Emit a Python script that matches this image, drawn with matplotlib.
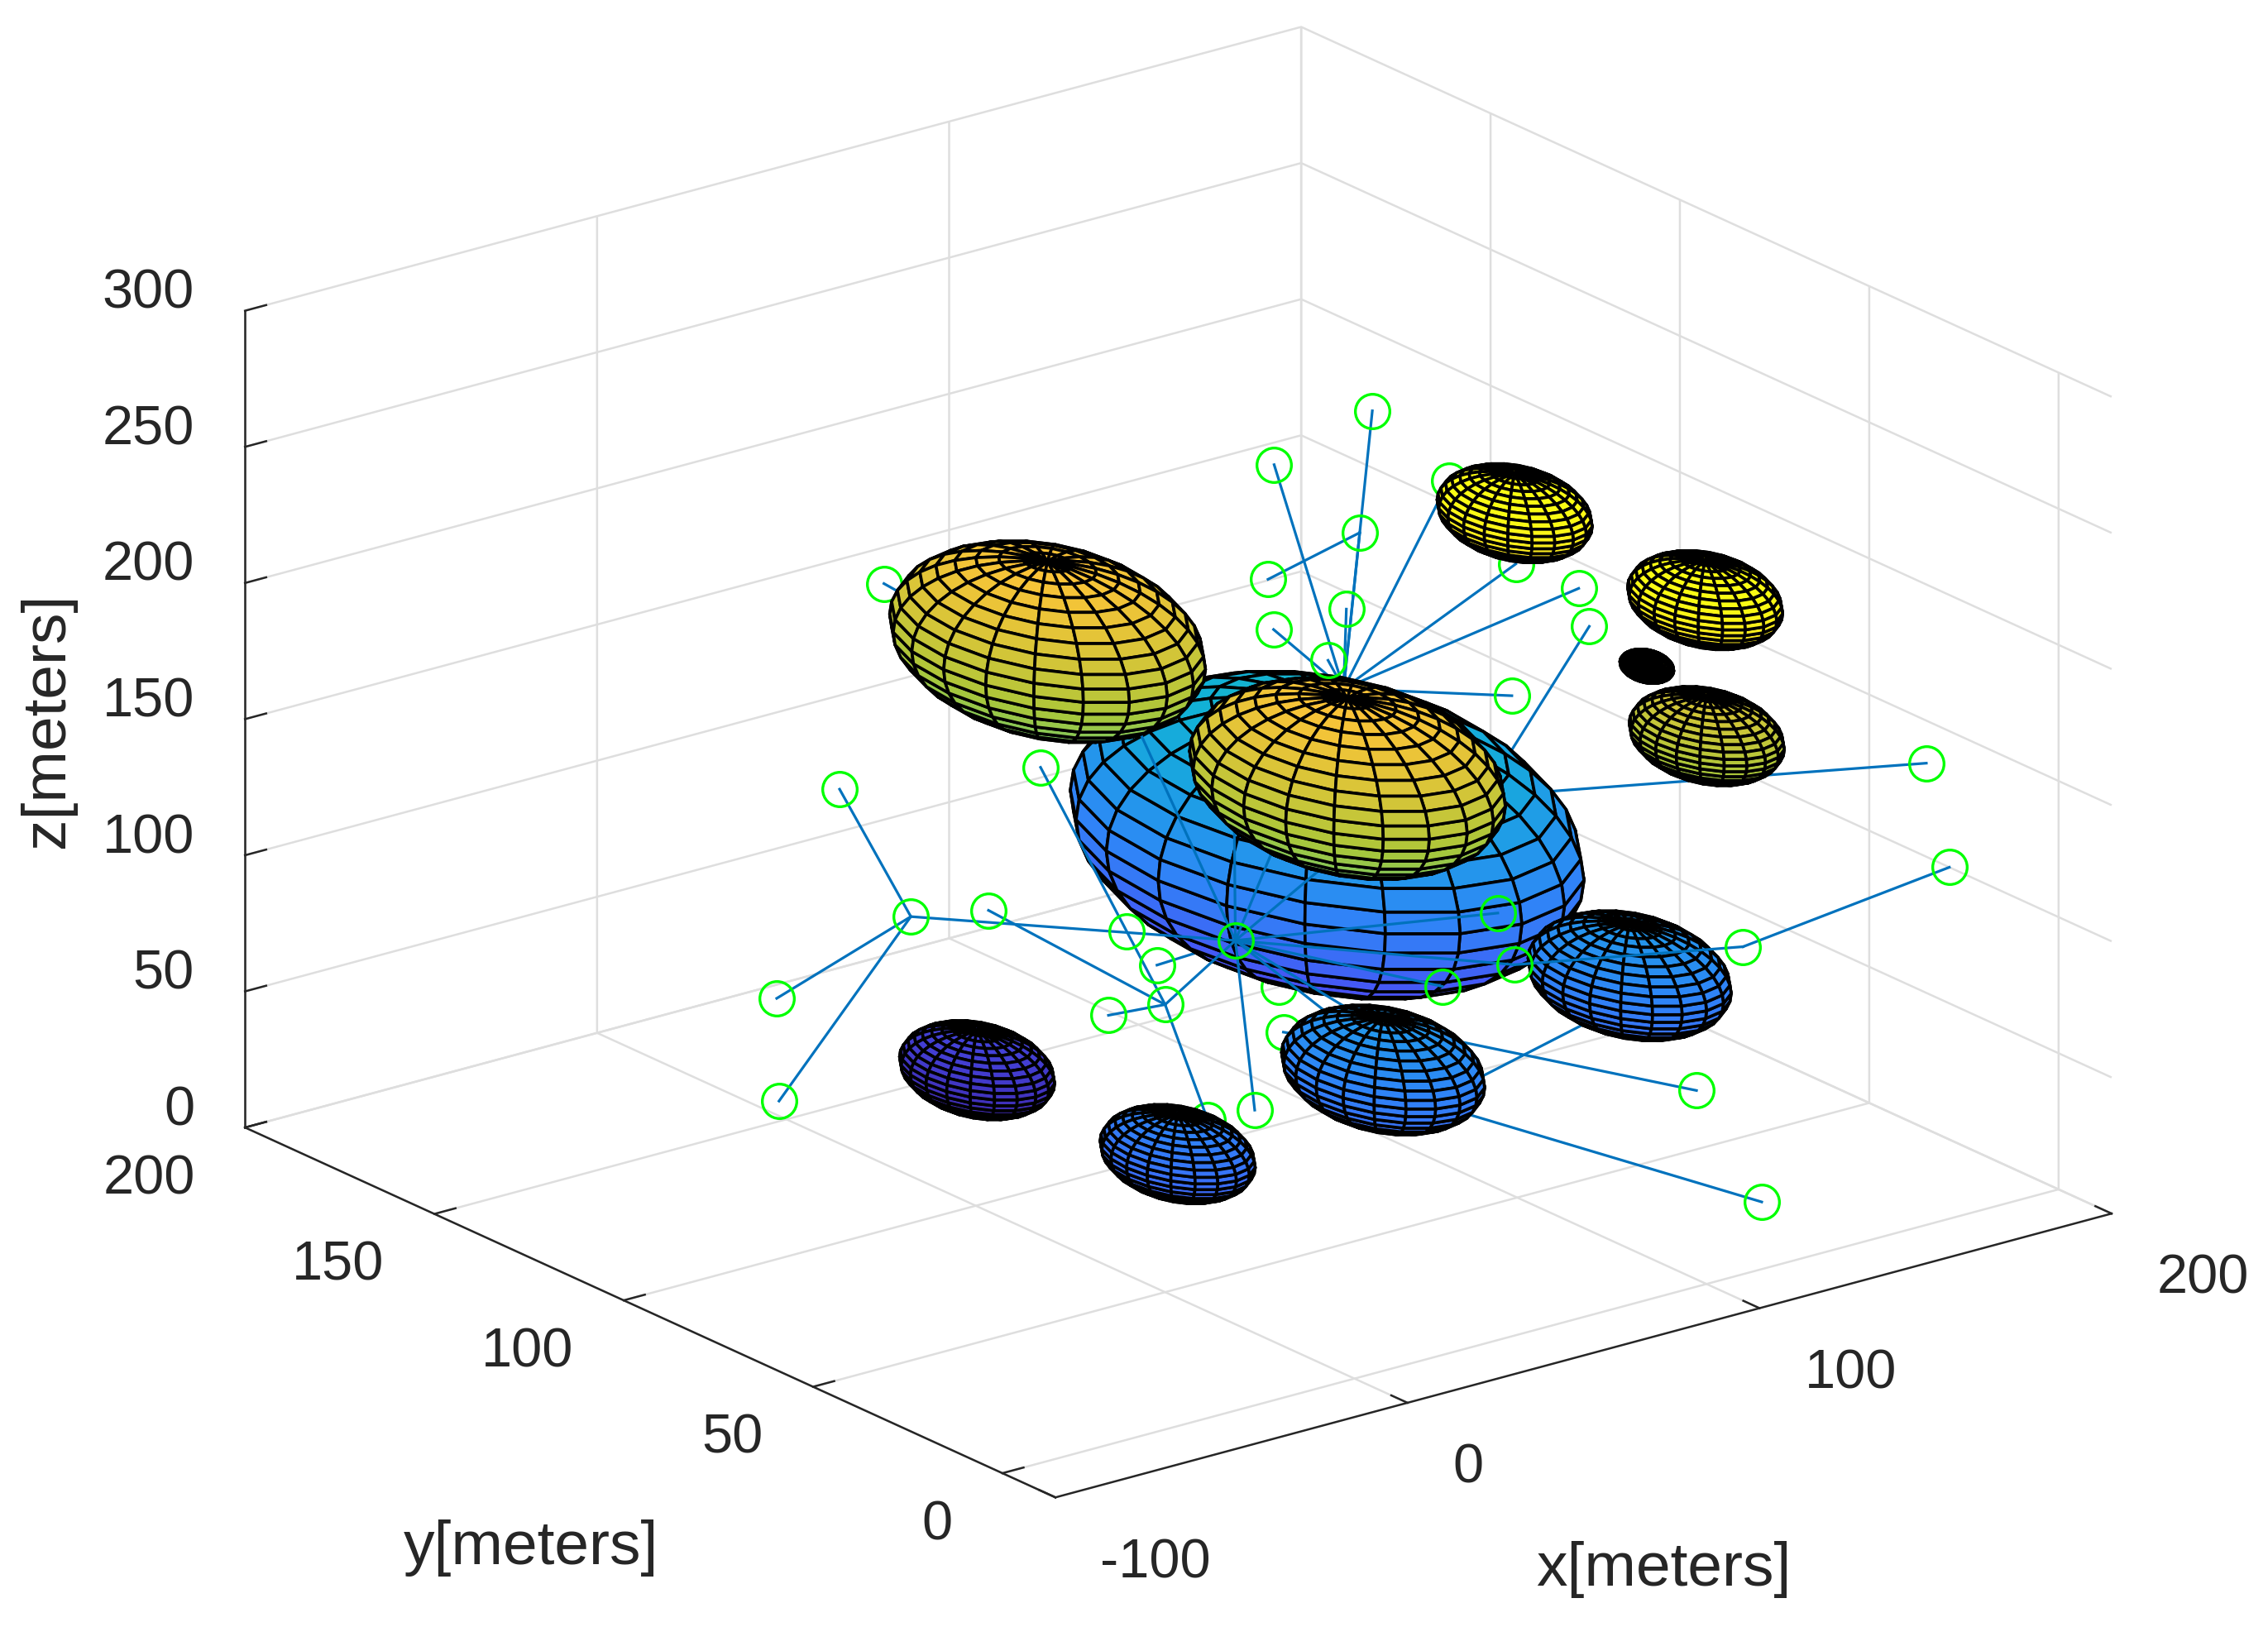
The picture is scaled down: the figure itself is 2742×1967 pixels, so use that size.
import matplotlib
matplotlib.use('Agg')
import matplotlib.pyplot as plt
import numpy as np
from matplotlib.colors import LinearSegmentedColormap

plt.rcParams['font.family'] = ['Liberation Sans', 'DejaVu Sans']

# ellipsoids
sphere_x = [128, 29, 29, 127, 46, -13, 32, 101, 101, 112, 118]
sphere_y = [126.2, 108, 28.8, 45.4, 35.2, 34.6, 129.4, 51.6, 1.3, 11.1, 32.5]
sphere_z = [75, 192, 192, 75, 75, 65, 20, 250, 250, 190, 200]
sphere_rx = [48, 29.5, 29.5, 19, 19, 14.5, 14.5, 14.5, 14.5, 14.5, 5]
sphere_ry = [51.4, 31.6, 31.6, 20.3, 20.3, 15.5, 15.5, 15.5, 15.5, 15.5, 5.4]
sphere_rz = [48, 29.5, 29.5, 19, 19, 14.5, 14.5, 14.5, 14.5, 14.5, 5]
sphere_layer = [3, 6, 7, 7, 7, 7, 7, 6, 6, 6, 6]

# nodes of the blue links
node_ids = ['P1', 'P2', 'P3', 'P4', 'P5', 'P6', 'P7', 'P8', 'P9', 'P10', 'P11', 'P12', 'P13', 'A',
            'E11', 'E13', 'Q1', 'Q1e', 'Q2', 'Q3', 'Q4', 'Q4e', 'Q5', 'Q5e', 'L1', 'L2',
            'B', 'B1', 'B2', 'B3', 'B4', 'B5', 'B6', 'B6e', 'B7', 'B8',
            'C', 'C1', 'C2', 'C3', 'D', 'D1', 'D2', 'E', 'F',
            'G1', 'G2', 'G3', 'G4', 'H1', 'H2']
node_x = [77, 105, 87, 63, 76, 55, 58, 102, 108, 115, 118, 93, -2, 55,
          114, 10, 162, 117, 168, 132, 142, 104, 126, 87, 95, 134,
          49, 96, 100, 84, 66, 76, 75, 82, 52, 44,
          -5, -10.5, -29, -47.5, 54, 22, 45, 34, 43,
          41.5, 42, 68, 23, 89, 87]
node_y = [92.8, 92.9, 79.5, 81.4, 72.8, 72.5, 60.9, 69.9, 57.8, 47.7, 47.7, 44.9, 122.4, 54,
          82.1, 107.3, -0.4, 69, -0.9, 20.1, 41.7, 80.1, 9.6, 71.6, 64.5, 58.8,
          77, 51.4, 50.8, 54.9, 87.7, 90.6, 88.5, 79, 100.5, 101,
          112.5, 126.2, 125.6, 107.8, 100.2, 117.1, 106.8, 114.5, 78.7,
          70.5, 53.4, 54.2, 82.3, 78, 81.2]
node_z = [250, 260, 230, 220, 210, 210, 205, 250, 225, 220, 205, 190, 215, 200,
          100, 200, 170, 130, 130, 100, 30, 40, 15, 30, 30, 50,
          95, 105, 85, 80, 20, 60, 45, 45, 70, 85,
          100, 140, 70, 50, 55, 90, 50, 140, 30,
          170, 170, 150, 190, 50, 45]

back_links = [('A', 'P1'), ('A', 'P2'), ('A', 'P3'), ('P3', 'P4'), ('A', 'P5'), ('A', 'P6'), ('A', 'P7'),
              ('A', 'P8'), ('A', 'P9'), ('A', 'P10'), ('A', 'P12'), ('P11', 'E11'), ('P13', 'E13'),
              ('Q1', 'Q1e'), ('Q4', 'Q4e'), ('Q5', 'Q5e'), ('L1', 'L2'), ('B6', 'B6e'), ('B7', 'B')]
front_links = [('B', 'C'), ('C', 'C1'), ('C', 'C2'), ('C', 'C3'), ('B', 'D'), ('D', 'D1'), ('D', 'D2'),
               ('D', 'E'), ('D', 'F'), ('B', 'B1'), ('B', 'B2'), ('B', 'B3'), ('B', 'B4'),
               ('B', 'G1'), ('B', 'G2'), ('B', 'G3'), ('B', 'G4'), ('B', 'H1'), ('B', 'H2')]
top_links = [('Q2', 'Q3'), ('Q3', 'B2')]

back_markers = ['P8', 'P9', 'P13', 'B5', 'B6', 'F']
front_markers = ['P1', 'P2', 'P3', 'P4', 'P5', 'P6', 'P7', 'P10', 'P11', 'P12', 'Q1', 'Q2', 'Q3', 'Q4', 'Q5',
                 'B', 'B1', 'B2', 'B3', 'B4', 'B7', 'B8', 'C', 'C1', 'C2', 'C3', 'D', 'D1', 'D2', 'E']

x_ticks = [-100, 0, 100, 200]
x_labels = ['-100', '0', '100', '200']
y_ticks = [0, 50, 100, 150, 200]
z_ticks = [0, 50, 100, 150, 200, 250, 300]

parula = LinearSegmentedColormap.from_list('parula', [
    (0.2422, 0.1504, 0.6603), (0.2810, 0.3228, 0.9579), (0.1786, 0.5289, 0.9682), (0.0689, 0.6948, 0.8394),
    (0.2161, 0.7843, 0.5923), (0.6720, 0.7793, 0.2227), (0.9970, 0.7659, 0.2199), (0.9769, 0.9839, 0.0805)])

ink = (0.15, 0.15, 0.15)
grid_c = (0.87, 0.87, 0.87)
link_c = (0, 0.447, 0.741)

fig = plt.figure(figsize=(27.42, 19.67), dpi=100)
ax = fig.add_axes([(1398 - 983.5) / 2742, (1019 - 983.5) / 1967, 1967 / 2742, 1.0], projection='3d', proj_type='ortho')
ax.computed_zorder = False
ax.view_init(elev=20.5, azim=-127.5)
ax.set_box_aspect((1, 1, 0.655), zoom=1.238)
ax.set_xlim(-100, 200, view_margin=0)
ax.set_ylim(-14, 200, view_margin=0)
ax.set_zlim(0, 300, view_margin=0)
ax.set_xticks(x_ticks, x_labels)
ax.set_yticks(y_ticks)
ax.set_zticks(z_ticks)

for axis in (ax.xaxis, ax.yaxis, ax.zaxis):
    axis.set_pane_color((1, 1, 1, 0))
    axis.pane.set_edgecolor(grid_c)
    axis.line.set_color(ink)
    axis.line.set_linewidth(1.8)
    axis._axinfo['grid'].update(color=grid_c, linewidth=1.8)
    axis._axinfo['tick'].update(inward_factor=0, outward_factor=0.25, linewidth={True: 1.8, False: 1.8}, color=ink)
ax.tick_params(axis='x', labelsize=48, colors=ink, pad=33)
ax.tick_params(axis='y', labelsize=48, colors=ink, pad=27)
ax.tick_params(axis='z', labelsize=48, colors=ink, pad=12)
for t in ax.xaxis.get_major_ticks():
    t.label1.set_ha('left')
    t.label1.set_va('center')
for t in ax.yaxis.get_major_ticks():
    t.label1.set_ha('right')
    t.label1.set_va('center')
for t in ax.zaxis.get_major_ticks():
    t.label1.set_ha('right')
    t.label1.set_va('baseline')

u = np.linspace(0, 2 * np.pi, 21)
v = np.linspace(0, np.pi, 21)
for cx, cy, cz, rx, ry, rz, layer in zip(sphere_x, sphere_y, sphere_z, sphere_rx, sphere_ry, sphere_rz, sphere_layer):
    X = cx + rx * np.outer(np.cos(u), np.sin(v))
    Y = cy + ry * np.outer(np.sin(u), np.sin(v))
    Z = cz + rz * np.outer(np.ones_like(u), np.cos(v))
    ax.plot_surface(X, Y, Z, rstride=1, cstride=1, cmap=parula, vmin=10, vmax=258, shade=False,
                    edgecolor='k', linewidth=2.6, antialiased=True, zorder=layer)


def node(name):
    i = node_ids.index(name)
    return node_x[i], node_y[i], node_z[i]


def draw_links(links, layer):
    for a, b in links:
        pa, pb = node(a), node(b)
        ax.plot([pa[0], pb[0]], [pa[1], pb[1]], [pa[2], pb[2]], color=link_c, lw=2.3, zorder=layer)


def draw_markers(names, layer):
    pts = [node(n) for n in names]
    ax.plot([p[0] for p in pts], [p[1] for p in pts], [p[2] for p in pts], linestyle='none', marker='o',
            mfc='none', mec=(0, 1, 0), ms=30, mew=2.4, zorder=layer)


draw_links(back_links, 1)
draw_markers(back_markers, 2)
draw_links(front_links, 5)
draw_links(top_links, 8)
draw_markers(front_markers, 9)

fig.text(1150 * 1.749 / 2742, 1 - 1085 * 1.749 / 1967, 'x[meters]', fontsize=54, color=ink, ha='center', va='center')
fig.text(367 * 1.749 / 2742, 1 - 1070 * 1.749 / 1967, 'y[meters]', fontsize=54, color=ink, ha='center', va='center')
fig.text(33 * 1.749 / 2742, 1 - 498 * 1.749 / 1967, 'z[meters]', fontsize=54, color=ink, ha='center', va='center', rotation=90)

fig.savefig('out.png', dpi=100)
